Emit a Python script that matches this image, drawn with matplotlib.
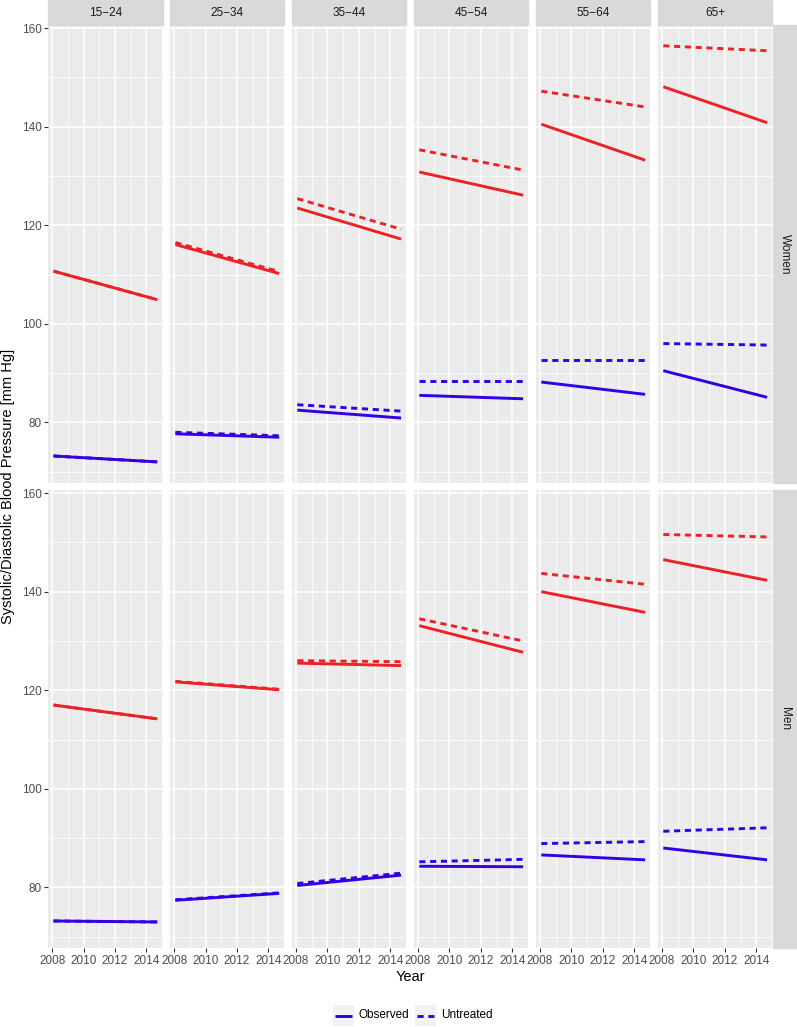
import matplotlib
matplotlib.use("Agg")
import matplotlib.pyplot as plt
from matplotlib.patches import Rectangle
from matplotlib.lines import Line2D

plt.rcParams['font.family'] = ['Liberation Sans', 'DejaVu Sans']

# ---------------- data ----------------
age_groups = ["15\u221224", "25\u221234", "35\u221244", "45\u221254", "55\u221264", "65+"]
sexes = ["Women", "Men"]
years = [2008.08, 2014.69]

# [start, end] per age group
women_sys_observed = [[110.7, 104.9], [116.1, 110.2], [123.5, 117.2], [130.8, 126.1], [140.5, 133.2], [148.1, 140.8]]
women_sys_untreated = [[110.7, 104.9], [116.5, 110.6], [125.4, 119.2], [135.3, 131.2], [147.2, 144.0], [156.4, 155.4]]
women_dia_observed = [[73.2, 72.0], [77.7, 77.0], [82.5, 80.9], [85.5, 84.8], [88.2, 85.7], [90.5, 85.1]]
women_dia_untreated = [[73.2, 72.0], [78.0, 77.3], [83.6, 82.3], [88.5, 88.5], [92.6, 92.6], [96.0, 95.7]]

men_sys_observed = [[117.0, 114.2], [121.7, 120.1], [125.5, 125.0], [133.1, 127.7], [140.0, 135.8], [146.5, 142.3]]
men_sys_untreated = [[117.0, 114.2], [121.8, 120.2], [126.0, 125.8], [134.5, 130.0], [143.7, 141.5], [151.6, 151.1]]
men_dia_observed = [[73.2, 73.0], [77.4, 78.8], [80.4, 82.5], [84.3, 84.2], [86.6, 85.6], [88.0, 85.6]]
men_dia_untreated = [[73.2, 73.0], [77.5, 78.9], [80.8, 82.9], [85.2, 85.7], [88.9, 89.3], [91.4, 92.1]]

x_ticks = [2008, 2010, 2012, 2014]
x_minor = [2009, 2011, 2013, 2015]
y_ticks = [80, 100, 120, 140, 160]
y_minor = [70, 90, 110, 130, 150]

RED = '#EC2227'
BLUE = '#3300E6'

series = {
    "Women": [(women_sys_untreated, RED, True), (women_sys_observed, RED, False),
              (women_dia_untreated, BLUE, True), (women_dia_observed, BLUE, False)],
    "Men": [(men_sys_untreated, RED, True), (men_sys_observed, RED, False),
            (men_dia_untreated, BLUE, True), (men_dia_observed, BLUE, False)],
}

# ---------------- layout ----------------
W, H = 797, 1027
fig = plt.figure(figsize=(W / 100, H / 100), dpi=100)

def fx(px):
    return px / W

def fy(py):
    return 1 - py / H

col_left = [48.3, 170.2, 292.1, 414.1, 536.1, 658.1]
pan_w = 114.2
row_top = [25.0, 490.0]
pan_h = 457.7

all_vals = [v for s in series.values() for d, _, _ in s for pair in d for v in pair]
ymin, ymax = min(all_vals), max(all_vals)
yr = ymax - ymin
ylim = (ymin - 0.05 * yr, ymax + 0.05 * yr)
xr = years[1] - years[0]
xlim = (years[0] - 0.05 * xr, years[1] + 0.05 * xr)

FS = 8.5
LW = 2.1
for r, sex in enumerate(sexes):
    for c, age in enumerate(age_groups):
        ax = fig.add_axes([fx(col_left[c]), fy(row_top[r] + pan_h), fx(pan_w), pan_h / H])
        ax.set_facecolor('#EBEBEB')
        for sp in ax.spines.values():
            sp.set_visible(False)
        ax.set_xlim(*xlim)
        ax.set_ylim(*ylim)
        ax.set_xticks(x_ticks)
        ax.set_xticks(x_minor, minor=True)
        ax.set_yticks(y_ticks)
        ax.set_yticks(y_minor, minor=True)
        ax.grid(which='major', color='white', lw=1.1)
        ax.grid(which='minor', color='white', lw=0.55)
        ax.set_axisbelow(True)
        ax.tick_params(which='minor', length=0)
        ax.tick_params(which='major', length=2.9, width=0.8, color='#333333',
                       labelcolor='#4D4D4D', labelsize=FS, pad=2)
        if c != 0:
            ax.tick_params(axis='y', which='major', length=0, labelleft=False)
        if r != 1:
            ax.tick_params(axis='x', which='major', length=0, labelbottom=False)
        for data, color, dashed in series[sex]:
            ln, = ax.plot(years, data[c], color=color, lw=LW, solid_capstyle='butt')
            if dashed:
                ln.set_dashes((2.1, 1.6))
                ln.set_dash_capstyle('butt')

# strips
for c, age in enumerate(age_groups):
    fig.patches.append(Rectangle((fx(col_left[c]), fy(24.5)), fx(pan_w), 24.5 / H,
                                 transform=fig.transFigure, color='#D9D9D9', zorder=0))
    fig.text(fx(col_left[c] + pan_w / 2), fy(12.5), age, ha='center', va='center',
             fontsize=FS, color='#1A1A1A')
for r, sex in enumerate(sexes):
    fig.patches.append(Rectangle((fx(772.8), fy(row_top[r] + pan_h)), fx(24.2), pan_h / H,
                                 transform=fig.transFigure, color='#D9D9D9', zorder=0))
    fig.text(fx(785), fy(row_top[r] + pan_h / 2), sex, ha='center', va='center',
             rotation=-90, fontsize=FS, color='#1A1A1A')

# axis titles
fig.text(fx(col_left[0] + (col_left[-1] + pan_w - col_left[0]) / 2), fy(977), 'Year',
         ha='center', va='center', fontsize=10.5, color='black')
fig.text(fx(8.5), fy((row_top[0] + row_top[1] + pan_h) / 2),
         'Systolic/Diastolic Blood Pressure [mm Hg]', ha='center', va='center',
         rotation=90, fontsize=10.5, color='black')

# legend
lg = fig.add_axes([0, 0, 1, 1], facecolor='none')
lg.set_xlim(0, W)
lg.set_ylim(H, 0)
lg.axis('off')
legend_items = [("Observed", False), ("Untreated", True)]
key_x = [333.5, 415.5]
for (label, dashed), kx in zip(legend_items, key_x):
    lg.add_patch(Rectangle((kx, 1005), 21, 21, color='#F2F2F2', lw=0))
    ln = Line2D([kx + 2, kx + 19], [1015.5, 1015.5], color=BLUE, lw=LW, solid_capstyle='butt')
    if dashed:
        ln.set_dashes((2.1, 1.6))
    lg.add_line(ln)
    lg.text(kx + 25.5, 1015.5, label, ha='left', va='center', fontsize=FS, color='black')

fig.savefig('out.png', dpi=100)
